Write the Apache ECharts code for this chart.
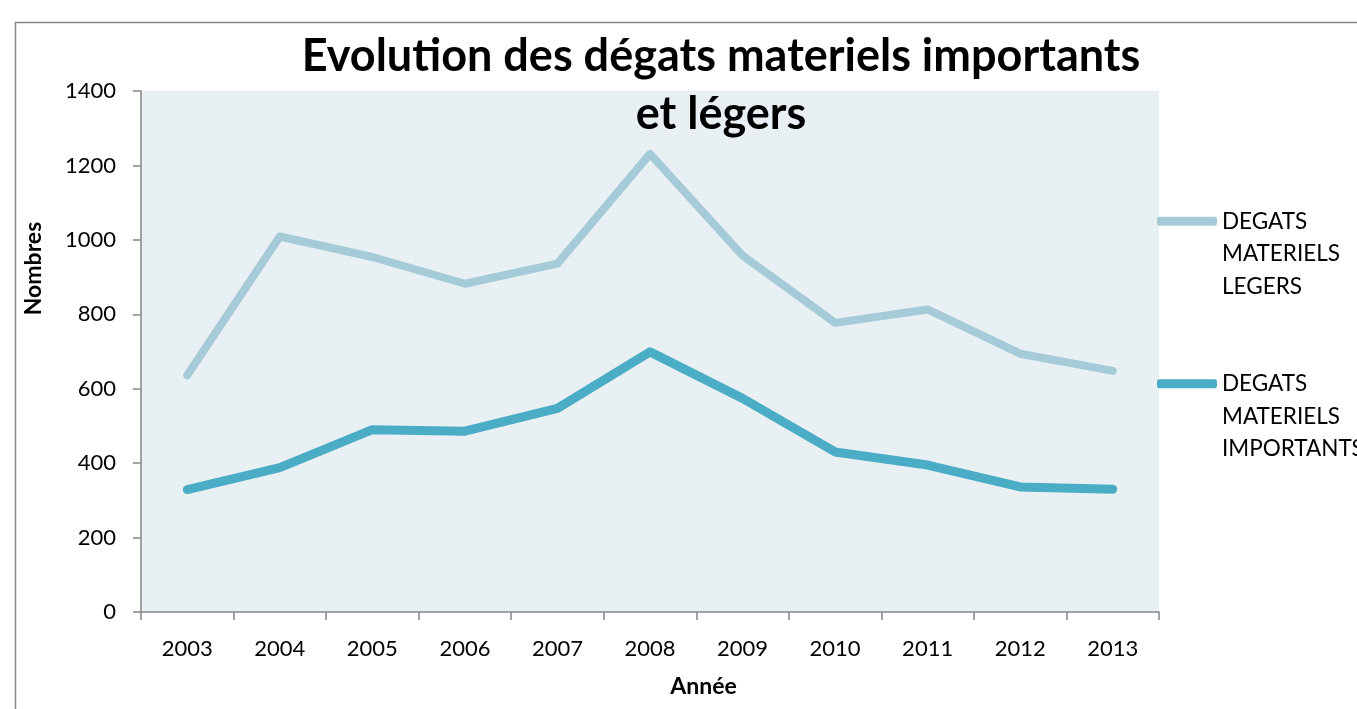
<!DOCTYPE html>
<html>
<head>
<meta charset="utf-8">
<script src="https://cdn.jsdelivr.net/npm/echarts@6/dist/echarts.min.js"></script>
<style>
html,body{margin:0;padding:0;background:#fff;}
#c{width:1357px;height:709px;}
</style>
</head>
<body>
<div id="c"></div>
<script>
var years = ['2003','2004','2005','2006','2007','2008','2009','2010','2011','2012','2013'];
var legers = [636, 1009, 954, 882, 936, 1231, 958, 777, 813, 694, 648];
var importants = [329, 388, 490, 486, 547, 699, 574, 430, 395, 336, 330];
var seriesNames = ['DEGATS\nMATERIELS\nLEGERS', 'DEGATS\nMATERIELS\nIMPORTANTS'];
var titleText = 'Evolution des dégats materiels importants\net légers';

var FONT = 'Lato, "Open Sans", sans-serif';
var chart = echarts.init(document.getElementById('c'));
chart.setOption({
  backgroundColor: '#ffffff',
  animation: false,
  graphic: [{
    type: 'rect', left: 13, top: 20, z: -10,
    shape: {width: 1400, height: 720},
    style: {fill: 'none', stroke: '#878787', lineWidth: 1.5}
  }],
  title: {
    text: titleText,
    left: 716, top: 22, textAlign: 'center',
    textStyle: {fontFamily: FONT, fontSize: 45, fontWeight: 'bold', color: '#000', lineHeight: 58}
  },
  legend: {
    orient: 'vertical',
    left: 1152, top: 135,
    itemWidth: 60, itemHeight: 9, itemGap: 0,
    icon: 'roundRect',
    formatter: function (n) { return '\n\n' + n; },
    textStyle: {fontFamily: FONT, fontSize: 22.5, color: '#000', lineHeight: 32.5},
    data: seriesNames
  },
  grid: {left: 141, top: 91, right: 198, bottom: 97, show: true, backgroundColor: '#E8F0F4', borderWidth: 0},
  xAxis: {
    type: 'category', data: years, boundaryGap: true,
    name: 'Année', nameLocation: 'middle', nameGap: 63,
    nameTextStyle: {fontFamily: FONT, fontSize: 23, fontWeight: 'bold', color: '#000', padding: [0, 0, 0, 107]},
    axisLine: {lineStyle: {color: '#868686', width: 1.5}},
    axisTick: {show: true, length: 8, inside: false, lineStyle: {color: '#868686', width: 1.5}},
    axisLabel: {fontFamily: FONT, fontSize: 22, color: '#000', margin: 26}
  },
  yAxis: {
    type: 'value', min: 0, max: 1400, interval: 200,
    name: 'Nombres', nameLocation: 'middle', nameGap: 96, nameRotate: 90,
    nameTextStyle: {fontFamily: FONT, fontSize: 23, fontWeight: 'bold', color: '#000', padding: [0, 0, 0, 166]},
    axisLine: {show: true, lineStyle: {color: '#868686', width: 1.5}},
    axisTick: {show: true, length: 8, lineStyle: {color: '#868686', width: 1.5}},
    splitLine: {show: false},
    axisLabel: {fontFamily: FONT, fontSize: 22, color: '#000', margin: 25, formatter: function (v) { return String(v); }}
  },
  series: [
    {name: seriesNames[0], type: 'line', data: legers, symbol: 'none',
     lineStyle: {color: '#A5CBD8', width: 8, cap: 'round', join: 'round'}, itemStyle: {color: '#A5CBD8'}},
    {name: seriesNames[1], type: 'line', data: importants, symbol: 'none',
     lineStyle: {color: '#4BACC6', width: 9, cap: 'round', join: 'round'}, itemStyle: {color: '#4BACC6'}}
  ]
});
</script>
</body>
</html>
